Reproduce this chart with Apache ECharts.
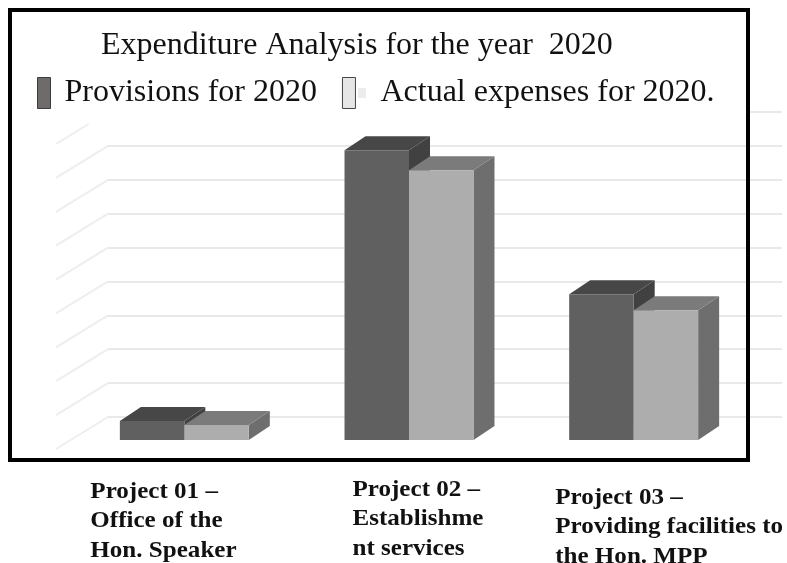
<!DOCTYPE html>
<html>
<head>
<meta charset="utf-8">
<style>html,body{margin:0;padding:0;background:#fff}#chart{width:787px;height:563px}</style>
<script src="https://cdn.jsdelivr.net/npm/echarts@6/dist/echarts.min.js"></script>
</head>
<body>
<div id="chart"></div>
<script>
const titleText = 'Expenditure Analysis for the year  2020';
const categories = ['Project 01 –\nOffice of the\nHon. Speaker', 'Project 02 –\nEstablishme\nnt services', 'Project 03 –\nProviding facilities to\nthe Hon. MPP'];
const seriesNames = ['Provisions for 2020', 'Actual expenses for 2020.'];
const provisions = [5.6, 85.5, 43];
const actuals = [4.4, 79.6, 38.3];
const gridValues = [0, 10, 20, 30, 40, 50, 60, 70, 80, 90];

// Pixel offsets of each project caption from its category centre.
const captionOffsets = [[-130, 60], [-92.5, 58], [-114.5, 66]];

const FRONT_DX = -36, FRONT_DY = 23;   // floor position of the bars relative to the back wall
const DEPTH_DX = 21, DEPTH_DY = -14;   // extrusion of each bar

const palettes = [
  { front: '#606060', top: '#474747', side: '#414141' },
  { front: '#adadad', top: '#7b7b7b', side: '#6e6e6e' }
];

function prismRenderer(index) {
  return function (params, api) {
    const band = api.size([1, 0])[0];
    const width = band * 0.287;
    const base = api.coord([api.value(0), 0]);
    const peak = api.coord([api.value(0), api.value(1)]);
    const x0 = base[0] + FRONT_DX + (index - 1) * width;
    const x1 = x0 + width;
    const yb = base[1] + FRONT_DY;
    const yt = peak[1] + FRONT_DY;
    const c = palettes[index];
    return {
      type: 'group',
      children: [
        { type: 'polygon', shape: { points: [[x1, yb], [x1 + DEPTH_DX, yb + DEPTH_DY], [x1 + DEPTH_DX, yt + DEPTH_DY], [x1, yt]] }, style: { fill: c.side } },
        { type: 'polygon', shape: { points: [[x0, yt], [x0 + DEPTH_DX, yt + DEPTH_DY], [x1 + DEPTH_DX, yt + DEPTH_DY], [x1, yt]] }, style: { fill: c.top } },
        { type: 'rect', shape: { x: x0, y: yt, width: width, height: yb - yt }, style: { fill: c.front } }
      ]
    };
  };
}

const chart = echarts.init(document.getElementById('chart'), null, { renderer: 'canvas' });
chart.setOption({
  animation: false,
  backgroundColor: '#fff',
  title: {
    text: titleText, left: 96, top: 25,
    textStyle: { fontFamily: 'Liberation Serif', fontSize: 32, fontWeight: 'normal', color: '#111' }
  },
  legend: {
    left: 37, top: 77, padding: 0, orient: 'horizontal', itemWidth: 13, itemHeight: 31, itemGap: 25,
    icon: 'rect', selectedMode: false,
    textStyle: { fontFamily: 'Liberation Serif', fontSize: 32, color: '#111', padding: [0, 0, 0, 9] },
    data: [
      { name: seriesNames[0], itemStyle: { color: '#6f6b6b', borderColor: '#3c3c3c', borderWidth: 1 } },
      { name: seriesNames[1], itemStyle: { color: '#e6e6e6', borderColor: '#444', borderWidth: 1 }, textStyle: { padding: [0, 0, 0, 20] } }
    ]
  },
  grid: { left: 108, width: 674, top: 112, bottom: 146 },
  xAxis: {
    type: 'category', data: categories,
    axisLine: { show: false }, axisTick: { show: false }, axisLabel: { show: false }
  },
  yAxis: {
    type: 'value', min: 0, max: 90, interval: 10,
    axisLine: { show: false }, axisTick: { show: false }, axisLabel: { show: false },
    splitLine: { show: true, lineStyle: { color: '#e9e9e9', width: 2 } }
  },
  series: [
    {
      // Receding floor and wall guides at the left of the plot
      type: 'custom', name: 'guides', z: 0, silent: true,
      coordinateSystem: 'cartesian2d',
      data: gridValues.map(v => [0, v]),
      renderItem: function (params, api) {
        const p = api.coord([0, api.value(1)]);
        const x = params.coordSys.x;
        return { type: 'line', shape: { x1: x, y1: p[1], x2: x - 52, y2: p[1] + 32 }, style: { stroke: '#eeeeee', lineWidth: 2 } };
      }
    },
    {
      type: 'custom', name: seriesNames[0], z: 2, coordinateSystem: 'cartesian2d',
      itemStyle: { color: '#6f6b6b' },
      data: provisions.map((v, i) => [i, v]),
      renderItem: prismRenderer(0)
    },
    {
      type: 'custom', name: seriesNames[1], z: 3, coordinateSystem: 'cartesian2d',
      itemStyle: { color: '#e6e6e6' },
      data: actuals.map((v, i) => [i, v]),
      renderItem: prismRenderer(1)
    },
    {
      // Project captions under the frame, set slightly wide
      type: 'custom', name: 'captions', z: 5, silent: true, clip: false,
      coordinateSystem: 'cartesian2d',
      data: categories.map((c, i) => [i, 0]),
      renderItem: function (params, api) {
        const p = api.coord([api.value(0), 0]);
        const off = captionOffsets[params.dataIndex];
        return {
          type: 'text',
          x: p[0] + off[0], y: p[1] + off[1], scaleX: 1.09,
          style: {
            x: 0, y: 0, text: categories[params.dataIndex],
            fontFamily: 'Liberation Serif', fontWeight: 'bold', fontSize: 23, lineHeight: 29.5, fill: '#111'
          }
        };
      }
    }
  ],
  graphic: [
    { type: 'rect', z: 1, silent: true, shape: { x: 12, y: 12, width: 734, height: 112 }, style: { fill: '#fff' } },
    { type: 'rect', z: 10, silent: true, shape: { x: 10, y: 10, width: 738, height: 450 }, style: { fill: 'none', stroke: '#000', lineWidth: 4 } },
    { type: 'rect', z: 10, silent: true, shape: { x: 358, y: 88, width: 8, height: 10 }, style: { fill: '#ececec' } }
  ]
});
</script>
</body>
</html>
